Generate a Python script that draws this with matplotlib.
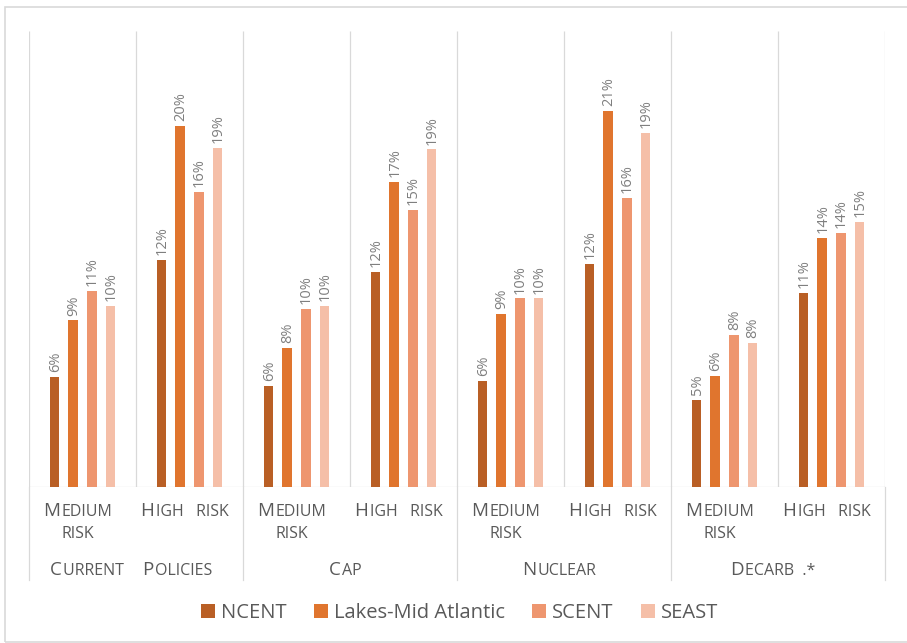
import re
import numpy as np
import matplotlib
matplotlib.use("Agg")
import matplotlib.pyplot as plt
from matplotlib.offsetbox import TextArea, HPacker, AnnotationBbox
from matplotlib.patches import Rectangle
import matplotlib.transforms as mtransforms

# --- data (in %) ---
scenarios = ["Current    Policies", "Cap", "Nuclear", "Decarb  .*"]
risk_levels = ["Medium\nrisk", "High   risk"]
series = ["NCENT", "Lakes-Mid Atlantic", "SCENT", "SEAST"]

ncent = [6.05, 12.45, 5.54, 11.77, 5.83, 12.22, 4.77, 10.64]
lakes = [9.13, 19.78, 7.61, 16.72, 9.49, 20.60, 6.10, 13.64]
scent = [10.77, 16.19, 9.77, 15.21, 10.34, 15.86, 8.36, 13.92]
seast = [9.95, 18.60, 9.91, 18.51, 10.34, 19.42, 7.91, 14.55]

colors = ["#B95F25", "#E0752E", "#EE966F", "#F5BFA8"]
GRID = "#D9D9D9"
AXIS_TEXT = "#595959"
LABEL_TEXT = "#7F7F7F"
FONT = "Open Sans"

values = [np.array(s) / 100 for s in (ncent, lakes, scent, seast)]
n_cat = len(ncent)
x = np.arange(n_cat)

W, H = 907, 643
fig = plt.figure(figsize=(W / 100, H / 100), dpi=100)
ax = fig.add_axes([29 / W, 1 - 487 / H, (885 - 29) / W, (487 - 31) / H])
ax_h_px = 487 - 31

# outer frame of the chart area (right edge is cut off in the reference)
fig.patches.append(Rectangle((5 / W, 1 - 642 / H), 1.2, (642 - 7) / H,
                             transform=fig.transFigure, fill=False,
                             edgecolor=GRID, lw=1.2))

bar_w = 0.089
step = 0.173
handles = []
for i, (vals, col) in enumerate(zip(values, colors)):
    pos = x + (i - 1.5) * step
    b = ax.bar(pos, vals, width=bar_w, color=col, label=series[i], zorder=3)
    handles.append(b)
    for px, v in zip(pos, vals):
        ax.annotate(f"{v:.0%}", (px, v), xytext=(0.5, 3.5), textcoords="offset points",
                    rotation=90, ha="center", va="bottom", fontsize=10.5,
                    color=LABEL_TEXT, family=FONT)

ax.set_xlim(-0.5, n_cat - 0.5)
ax.set_ylim(0, 0.25)
ax.axis("off")

# category separators and baseline
ax.vlines(np.arange(-0.5, n_cat), 0, 0.25, color=GRID, lw=0.9, zorder=1)
ax.axhline(0, color=GRID, lw=0.9, zorder=2)
trans = mtransforms.blended_transform_factory(ax.transData, ax.transAxes)
for gx in np.arange(-0.5, n_cat + 0.5, 2):
    ax.plot([gx, gx], [0, -93 / ax_h_px], transform=trans, color=GRID,
            lw=0.9, clip_on=False)


def smallcaps(text, big, small, color=AXIS_TEXT):
    parts = re.findall(r"[A-Z]+|[^A-Z]+", text)
    kids = []
    for p in parts:
        size = big if p.isupper() else small
        kids.append(TextArea(p.upper(), textprops=dict(fontsize=size, color=color,
                                                        family=FONT)))
    return HPacker(children=kids, align="baseline", pad=0, sep=1)


def place(box, xpos, dy_px, dx_px=-5):
    ab = AnnotationBbox(box, (xpos, 0), xycoords="data",
                        xybox=(dx_px * 0.72, -dy_px * 0.72), boxcoords="offset points",
                        box_alignment=(0.5, 0.5), frameon=False, pad=0,
                        annotation_clip=False)
    ax.add_artist(ab)


# risk level labels (first row) and scenario labels (second row)
for c in range(n_cat):
    lines = risk_levels[c % 2].split("\n")
    for k, line in enumerate(lines):
        place(smallcaps(line, 13.5, 11.5), c, 24 + 23.5 * k)
for g, name in enumerate(scenarios):
    place(smallcaps(name, 13.5, 11.5), 2 * g + 0.5, 83)

fig.legend(handles=handles, labels=series, loc="center", ncol=4,
           bbox_to_anchor=(459.5 / W, 1 - 613 / H), frameon=False,
           prop=dict(family=FONT, size=14.5), labelcolor=AXIS_TEXT,
           handlelength=0.7, handleheight=0.65, handletextpad=0.3,
           columnspacing=1.35)

fig.savefig("out.png", dpi=100)
